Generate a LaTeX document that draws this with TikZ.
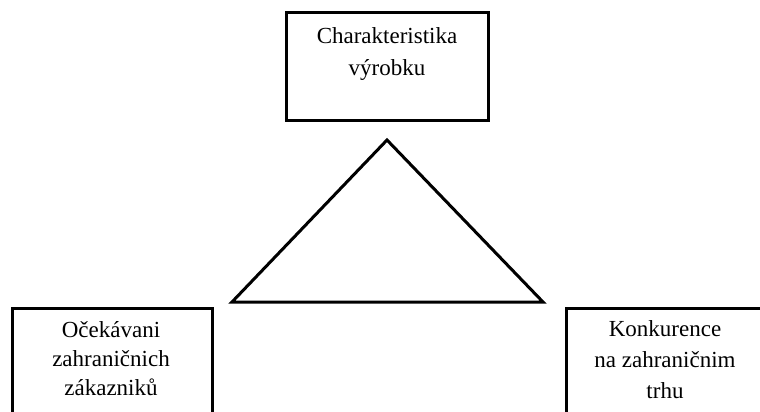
\documentclass[tikz,border=0pt]{standalone}
\usepackage{fontspec}
\setmainfont{Liberation Serif}
\begin{document}
\begin{tikzpicture}[x=1pt,y=-1pt,
  box/.style={draw=black,line width=3pt,fill=white,inner sep=0pt},
  label/.style={inner sep=0pt,anchor=north,align=center,text=black},
  frame/.style={draw=black,line width=3pt,line join=miter}]
  \useasboundingbox (0,0) rectangle (760,412);
  \clip (0,0) rectangle (760,412);
  % the three factor boxes
  \node[box,minimum width=202pt,minimum height=107pt] (product) at (387,66.5) {};
  \node[box,minimum width=200pt,minimum height=120pt] (customers) at (112,368) {};
  \node[box,minimum width=200pt,minimum height=120pt] (competition) at (666,368) {};
  % their captions
  \node[label,font=\fontsize{23}{32}\selectfont] (ptext) at (387,27) {Charakteristika\\výrobku};
  \node[label,font=\fontsize{23}{29}\selectfont] (ctext) at (111,321) {Očekávani\\zahraničnich\\zákazniků};
  \node[label,font=\fontsize{23}{31}\selectfont] (ktext) at (665,320) {Konkurence\\na zahraničnim\\trhu};
  % the triangle between them
  \coordinate (apex) at (387,140);
  \coordinate (bl) at (232,302);
  \coordinate (br) at (543,302);
  \draw[frame] (apex) -- (br) -- (bl) -- cycle;
\end{tikzpicture}
\end{document}
